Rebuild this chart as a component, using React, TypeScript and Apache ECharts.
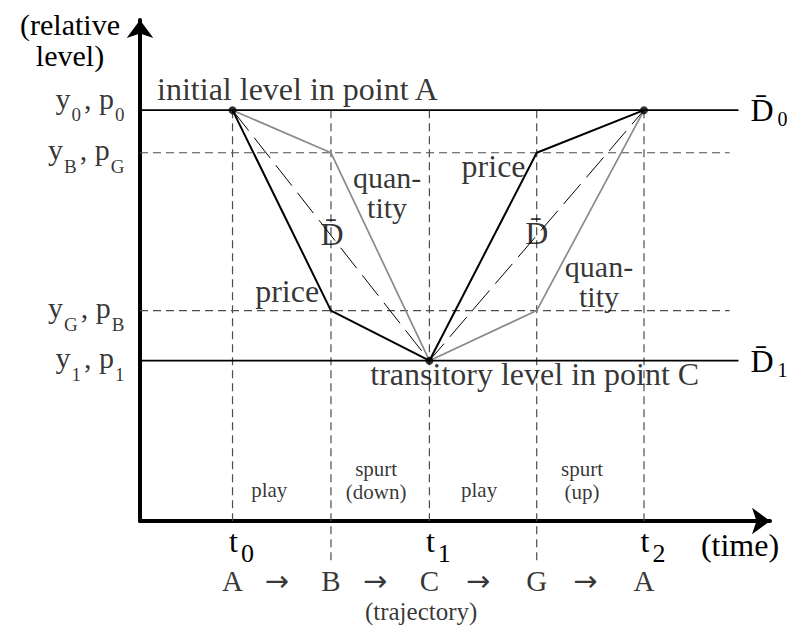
import { useEffect, useRef } from "react";
import * as echarts from "echarts";

const FONT = '"Liberation Serif", "Times New Roman", Times, serif';
const ARROW_FONT = '"DejaVu Sans", "Liberation Serif", sans-serif';

// ---- data ----
const pointNames = ["A", "B", "C", "G", "A"];
const timePos = [0, 1, 2, 3.09, 4.18];
const priceLevel = [2, 1.2, 1, 1.83, 2];
const quantityLevel = [2, 1.83, 1, 1.2, 2];
const dBarIdx = [0, 2, 4];
const markedIdx = [0, 2, 4];
const guideBelowAxis = [false, true, false, true, false];

const levelValues = [2, 1.83, 1.2, 1];
const levelSubs = [
  ["0", "0"],
  ["B", "G"],
  ["G", "B"],
  ["1", "1"],
];
const timeTickValues = [0, 2, 4.18];
const timeTickSubs = ["0", "1", "2"];
const demandLevels = [2, 1];
const demandSubs = ["0", "1"];
const guideLevels = [1.83, 1.2];

const phaseLabels = ["play", "spurt\n(down)", "play", "spurt\n(up)"];
const phaseAnchors = [
  [0.373, 0.483],
  [1.459, 0.523],
  [2.505, 0.483],
  [3.55, 0.523],
];

const notes = [
  { text: "initial level in point A", at: [0.66, 2.084], size: 32 },
  { text: "transitory level in point C", at: [3.07, 0.946], size: 32 },
  { text: "price", at: [0.555, 1.277], size: 32 },
  { text: "quan-\ntity", at: [1.57, 1.673], size: 30 },
  { text: "D\u0304", at: [1.01, 1.505], size: 32 },
  { text: "price", at: [2.652, 1.776], size: 32 },
  { text: "D\u0304", at: [3.09, 1.511], size: 32 },
  { text: "quan-\ntity", at: [3.723, 1.317], size: 30 },
];

const trajectoryLevel = 0.12;
const trajectoryCaption = { text: "(trajectory)", at: [1.916, -0.002] };

// ---- axis extents ----
const X_MIN = -0.94;
const X_MAX = 5.46;
const Y_MIN = 0.36;
const Y_MAX = 2.36;
const LINE_END = 5.14;
const GUIDE_END = 5.05;
const GUIDE_LOW = 0.184;

const idxOf = (arr: number[], v: number) =>
  arr.findIndex((a) => Math.abs(a - v) < 1e-6);

function buildOption() {
  const series: any[] = [];

  // vertical dashed guides
  timePos.forEach((x, i) => {
    series.push({
      type: "line",
      data: [
        [x, levelValues[0]],
        [x, guideBelowAxis[i] ? GUIDE_LOW : Y_MIN],
      ],
      symbol: "none",
      clip: false,
      silent: true,
      z: 1,
      lineStyle: { color: "#4d4d4d", width: 1.2, type: [8, 5] },
    });
  });

  // horizontal dashed guides
  guideLevels.forEach((y) => {
    series.push({
      type: "line",
      data: [
        [X_MIN, y],
        [GUIDE_END, y],
      ],
      symbol: "none",
      silent: true,
      z: 1,
      lineStyle: { color: "#4d4d4d", width: 1.2, type: [8, 5] },
    });
  });

  // demand levels (solid) with end labels
  demandLevels.forEach((y, i) => {
    series.push({
      type: "line",
      data: [
        [X_MIN, y],
        [LINE_END, y],
      ],
      symbol: "none",
      silent: true,
      clip: false,
      z: 2,
      lineStyle: { color: "#000", width: 1.8 },
      endLabel: {
        show: true,
        distance: 12,
        formatter: `{m|D\u0304}{s|${demandSubs[i]}}`,
        rich: {
          m: { fontFamily: FONT, fontSize: 32, lineHeight: 32, verticalAlign: "top", color: "#000" },
          s: {
            fontFamily: FONT,
            fontSize: 20,
            lineHeight: 20,
            verticalAlign: "top",
            padding: [15, 0, 0, 4],
            color: "#000",
          },
        },
      },
    });
  });

  // price path
  series.push({
    type: "line",
    data: timePos.map((x, i) => [x, priceLevel[i]]),
    symbol: "none",
    silent: true,
    z: 4,
    lineStyle: { color: "#000", width: 2 },
  });
  // quantity path
  series.push({
    type: "line",
    data: timePos.map((x, i) => [x, quantityLevel[i]]),
    symbol: "none",
    silent: true,
    z: 3,
    lineStyle: { color: "#8a8a8a", width: 1.7 },
  });
  // D-bar path
  series.push({
    type: "line",
    data: dBarIdx.map((i) => [timePos[i], priceLevel[i]]),
    symbol: "none",
    silent: true,
    z: 3,
    lineStyle: { color: "#000", width: 1, type: [26, 9] },
  });
  // marked points
  series.push({
    type: "scatter",
    data: markedIdx.map((i) => [timePos[i], priceLevel[i]]),
    symbol: "circle",
    symbolSize: 8,
    silent: true,
    z: 6,
    itemStyle: { color: "#000" },
  });

  // level labels at the vertical axis (y_i, p_i)
  series.push({
    type: "scatter",
    data: levelValues.map((v, k) => ({
      value: [X_MIN, v],
      label: {
        formatter: `{m|y}{s|${levelSubs[k][0]}}{m|, p}{s|${levelSubs[k][1]}}`,
        offset: [0, k === 0 ? -8 : 1],
      },
    })),
    symbol: "circle",
    symbolSize: 1,
    clip: false,
    silent: true,
    z: 10,
    itemStyle: { color: "rgba(0,0,0,0)" },
    label: {
      show: true,
      position: "left",
      distance: 12,
      padding: [0, 0, 8, 0],
      color: "#000",
      rich: {
        m: { fontFamily: FONT, fontSize: 30, lineHeight: 30, verticalAlign: "top", color: "#000" },
        s: {
          fontFamily: FONT,
          fontSize: 19,
          lineHeight: 19,
          verticalAlign: "top",
          padding: [22, 3, 0, 1],
          color: "#000",
        },
      },
    },
  });

  const textPoint = (
    at: number[],
    text: string,
    size: number,
    lineHeight: number,
    family: string = FONT
  ) => ({
    value: at,
    label: {
      show: true,
      position: "inside",
      formatter: text,
      fontFamily: family,
      fontSize: size,
      lineHeight,
      color: "#000",
      align: "center",
      verticalAlign: "middle",
    },
  });

  const textData: any[] = [];
  notes.forEach((n) => textData.push(textPoint(n.at, n.text, n.size, 30)));
  phaseLabels.forEach((t, i) => textData.push(textPoint(phaseAnchors[i], t, 21, 23)));
  pointNames.forEach((p, i) =>
    textData.push(textPoint([timePos[i], trajectoryLevel], p, 29, 25))
  );
  for (let i = 0; i < pointNames.length - 1; i++) {
    const mid = (timePos[i] + timePos[i + 1]) / 2 - 0.05;
    textData.push(textPoint([mid, trajectoryLevel], "\u2192", 29, 25, ARROW_FONT));
  }
  textData.push(textPoint(trajectoryCaption.at, trajectoryCaption.text, 25, 24));

  series.push({
    type: "scatter",
    data: textData,
    symbol: "circle",
    symbolSize: 1,
    clip: false,
    silent: true,
    z: 10,
    itemStyle: { color: "rgba(0,0,0,0)" },
  });

  return {
    animation: false,
    backgroundColor: "#fff",
    grid: { left: 140, right: 20, top: 20, bottom: 107, containLabel: false },
    xAxis: {
      type: "value",
      min: X_MIN,
      max: X_MAX,
      name: "(time)",
      nameLocation: "end",
      nameGap: -30,
      nameTextStyle: {
        fontFamily: FONT,
        fontSize: 32,
        lineHeight: 32,
        color: "#000",
        align: "center",
        verticalAlign: "top",
        padding: [8, 0, 0, 0],
      },
      axisLine: {
        show: true,
        onZero: false,
        symbol: ["none", "arrow"],
        symbolSize: [20, 18],
        lineStyle: { color: "#000", width: 4 },
      },
      axisTick: { show: false },
      splitLine: { show: false },
      axisLabel: {
        show: true,
        customValues: timeTickValues,
        showMinLabel: true,
        showMaxLabel: true,
        hideOverlap: false,
        margin: 4,
        padding: [0, 0, 0, 18],
        formatter: (v: number) => {
          const k = idxOf(timeTickValues, v);
          return k < 0 ? "" : `{m|t}{s|${timeTickSubs[k]}}`;
        },
        rich: {
          m: { fontFamily: FONT, fontSize: 32, lineHeight: 32, verticalAlign: "top", color: "#000" },
          s: {
            fontFamily: FONT,
            fontSize: 26,
            lineHeight: 26,
            verticalAlign: "top",
            padding: [15, 0, 0, 3],
            color: "#000",
          },
        },
      },
    },
    yAxis: {
      type: "value",
      min: Y_MIN,
      max: Y_MAX,
      name: "(relative\nlevel)",
      nameLocation: "end",
      nameGap: 11,
      nameTextStyle: {
        fontFamily: FONT,
        fontSize: 30,
        lineHeight: 31,
        color: "#000",
        align: "center",
        verticalAlign: "top",
        padding: [0, 140, 0, 0],
      },
      axisLine: {
        show: true,
        onZero: false,
        symbol: ["none", "arrow"],
        symbolSize: [20, 18],
        lineStyle: { color: "#000", width: 4 },
      },
      axisTick: { show: false },
      splitLine: { show: false },
      axisLabel: { show: false },
    },
    series,
  };
}

export default function App() {
  const ref = useRef<HTMLDivElement>(null);
  useEffect(() => {
    document.body.style.margin = "0";
    const chart = echarts.init(ref.current as HTMLDivElement, null, { renderer: "svg" });
    chart.setOption(buildOption() as any);
    return () => chart.dispose();
  }, []);
  return <div ref={ref} style={{ width: 790, height: 628 }} />;
}
